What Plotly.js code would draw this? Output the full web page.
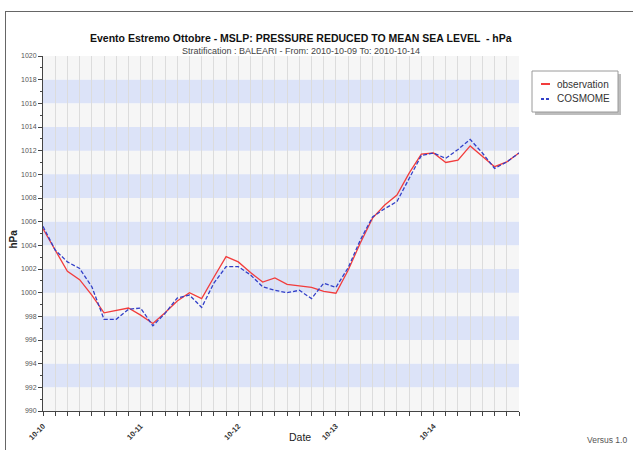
<!DOCTYPE html>
<html><head><meta charset="utf-8">
<script src="https://cdn.plot.ly/plotly-3.0.1.min.js"></script>
<style>
html,body{margin:0;padding:0;background:#fff;overflow:hidden;}
#chart{width:633px;height:450px;position:absolute;left:0;top:0;}
#frame{position:absolute;left:5px;top:11px;width:700px;height:500px;border:1px solid #666;pointer-events:none;}
</style></head>
<body>
<div id="chart"></div>
<div id="frame"></div>
<script>
// ---- data ----
const startDay = 10;           // 2010-10-10 00:00
const stepHours = 3;
const observation = [1005.4, 1003.6, 1001.8, 1001.1, 999.8, 998.3, 998.5, 998.7, 998.1, 997.4,
  998.3, 999.3, 1000.0, 999.5, 1001.3, 1003.05, 1002.6, 1001.7, 1000.9, 1001.25,
  1000.7, 1000.6, 1000.45, 1000.1, 999.95, 1001.9, 1004.2, 1006.3, 1007.4, 1008.25,
  1010.1, 1011.7, 1011.8, 1011.0, 1011.2, 1012.4, 1011.5, 1010.65, 1011.05, 1011.8];
const cosmome = [1005.6, 1003.6, 1002.6, 1002.05, 1000.5, 997.75, 997.75, 998.6, 998.7, 997.2,
  998.25, 999.55, 999.8, 998.75, 1000.8, 1002.2, 1002.2, 1001.5, 1000.5, 1000.2,
  1000.0, 1000.2, 999.5, 1000.8, 1000.45, 1002.1, 1004.45, 1006.4, 1007.1, 1007.7,
  1009.65, 1011.6, 1011.8, 1011.35, 1012.1, 1012.95, 1011.8, 1010.5, 1011.05, 1011.8];
const seriesNames = ['observation', 'COSMOME'];
const seriesColors = ['#f23c3c', '#3340c8'];
const dayTicks = ['2010-10-10', '2010-10-11', '2010-10-12', '2010-10-13', '2010-10-14'];
const dayLabels = ['10-10', '10-11', '10-12', '10-13', '10-14'];
const yTicks = [990, 992, 994, 996, 998, 1000, 1002, 1004, 1006, 1008, 1010, 1012, 1014, 1016, 1018, 1020];
const blueBands = [[992, 994], [996, 998], [1000, 1002], [1004, 1006], [1008, 1010], [1012, 1014], [1016, 1018]];
const titleText = 'Evento Estremo Ottobre - MSLP: PRESSURE REDUCED TO MEAN SEA LEVEL  - hPa';
const subtitleText = 'Stratification : BALEARI - From: 2010-10-09 To: 2010-10-14';

function pad(n){return (n<10?'0':'')+n;}
const times = observation.map((_, i) => {
  const h = i * stepHours;
  return '2010-10-' + pad(startDay + Math.floor(h / 24)) + ' ' + pad(h % 24) + ':00';
});

const FONT = 'Liberation Sans, Arial, sans-serif';
const W = 476, H = 355;            // plot area size in px
const px = v => (v - 43) / W;      // page x -> paper x
const py = v => (411 - v) / H;     // page y -> paper y

const shapes = [];
for (let k = 0; k < yTicks.length - 1; k++) {
  shapes.push({type:'rect', xref:'paper', yref:'y', x0:0, x1:1, y0:yTicks[k], y1:yTicks[k+1],
    fillcolor:'#f6f6f6', line:{width:0}, layer:'below'});
}
blueBands.forEach(b => shapes.push({type:'rect', xref:'paper', yref:'y', x0:0, x1:1, y0:b[0], y1:b[1],
  fillcolor:'#dce3f8', line:{width:0}, layer:'below'}));

// manual legend
shapes.push({type:'rect', xref:'paper', yref:'paper', x0:px(535), x1:px(621), y0:py(115), y1:py(74),
  fillcolor:'#bdbdbd', line:{width:0}});
shapes.push({type:'rect', xref:'paper', yref:'paper', x0:px(532), x1:px(618), y0:py(112), y1:py(71),
  fillcolor:'#ffffff', line:{width:1, color:'#9a9a9a'}});
const legendRows = [84, 99];
const legendAnn = [];
seriesNames.forEach((nm, i) => {
  shapes.push({type:'line', xref:'paper', yref:'paper', x0:px(541), x1:px(550), y0:py(legendRows[i]), y1:py(legendRows[i]),
    line:{color: seriesColors[i], width: 2, dash: i === 0 ? 'solid' : '3px,2px'}});
  legendAnn.push({text: nm, xref:'paper', yref:'paper', x: px(555), y: py(legendRows[i]), xanchor:'left', yanchor:'middle',
    showarrow:false, font:{family: FONT, size: 10, color:'#333'}});
});

const traces = [
  {x: times, y: observation, name: seriesNames[0], type: 'scatter', mode: 'lines',
   line: {color: seriesColors[0], width: 1.3}},
  {x: times, y: cosmome, name: seriesNames[1], type: 'scatter', mode: 'lines',
   line: {color: seriesColors[1], width: 1.3, dash: '4px,2px'}}
];

const layout = {
  width: 633, height: 450,
  margin: {l: 43, r: 114, t: 56, b: 39},
  paper_bgcolor: 'rgba(0,0,0,0)', plot_bgcolor: '#ffffff',
  font: {family: FONT, size: 8, color: '#444'},
  showlegend: false,
  xaxis: {
    type: 'date', range: [times[0], times[times.length - 1]],
    tickvals: dayTicks, ticktext: dayLabels.map(s => '<b>' + s + '</b>'), tickangle: -45,
    ticks: 'outside', ticklen: 4, tickcolor: '#444', ticklabelstandoff: 3,
    tickfont: {family: FONT, size: 7.5, color: '#333'},
    showgrid: true, gridcolor: '#dcdcdc', gridwidth: 1,
    minor: {dtick: 3 * 3600000, showgrid: true, gridcolor: '#dcdcdc', ticks: 'outside', ticklen: 4, tickcolor: '#444'},
    showline: true, linecolor: '#444', linewidth: 1, zeroline: false, fixedrange: true, automargin: false
  },
  yaxis: {
    range: [990, 1020], tickvals: yTicks, ticktext: yTicks.map(String),
    ticks: 'outside', ticklen: 4, tickcolor: '#444',
    tickfont: {family: FONT, size: 7, color: '#555'},
    minor: {dtick: 1, ticks: 'outside', ticklen: 2, tickcolor: '#444', showgrid: false},
    showgrid: false, zeroline: false, showline: true, linecolor: '#444', linewidth: 1,
    fixedrange: true, automargin: false
  },
  shapes: shapes,
  annotations: [
    {text: '<b>' + titleText + '</b>', xref: 'paper', yref: 'paper', x: px(301), y: py(30),
     showarrow: false, font: {family: FONT, size: 10.5, color: '#111'}},
    {text: subtitleText, xref: 'paper', yref: 'paper', x: px(301), y: py(44),
     showarrow: false, font: {family: FONT, size: 9, color: '#444'}},
    {text: 'Date', xref: 'paper', yref: 'paper', x: px(300), y: py(445),
     showarrow: false, font: {family: FONT, size: 10.5, color: '#222'}},
    {text: '<b>hPa</b>', xref: 'paper', yref: 'paper', x: px(5), y: py(239), textangle: -90,
     showarrow: false, font: {family: FONT, size: 10, color: '#222'}},
    {text: 'Versus 1.0', xref: 'paper', yref: 'paper', x: px(585), y: py(447), xanchor: 'left',
     showarrow: false, font: {family: FONT, size: 8.5, color: '#555'}}
  ].concat(legendAnn)
};

Plotly.newPlot('chart', traces, layout, {staticPlot: true, displayModeBar: false});
</script>
</body></html>
